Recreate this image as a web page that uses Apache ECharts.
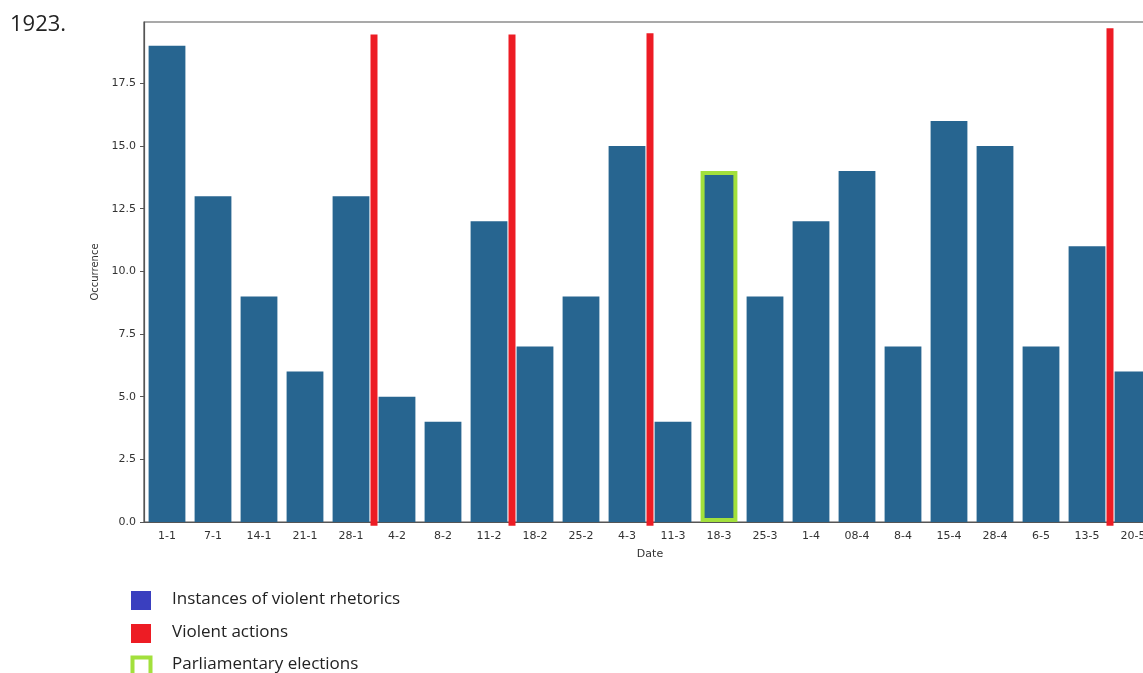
<!DOCTYPE html>
<html><head><meta charset="utf-8">
<script src="https://cdn.jsdelivr.net/npm/echarts@6/dist/echarts.min.js"></script>
<style>html,body{margin:0;padding:0;background:#fff}#c{width:1143px;height:673px}</style>
</head><body><div id="c"></div>
<script>
const dates = ['1-1','7-1','14-1','21-1','28-1','4-2','8-2','11-2','18-2','25-2','4-3','11-3','18-3','25-3','1-4','08-4','8-4','15-4','28-4','6-5','13-5','20-5'];
const rhetoric = [19,13,9,6,13,5,4,12,7,9,15,4,14,9,12,14,7,16,15,7,11,6];
const violentPos = [4.5,7.5,10.5,20.5];
const violentTop = [19.45,19.45,19.5,19.7];
const electionIndex = 12;
const yTicks = [0,2.5,5,7.5,10,12.5,15,17.5];

const chart = echarts.init(document.getElementById('c'), null, {renderer:'canvas'});
const barData = rhetoric.map((v,i)=> i===electionIndex
  ? {value:v, itemStyle:{color:'#276590', borderColor:'#a2e03c', borderWidth:4}}
  : v);
const lab = {fontFamily:'DejaVu Sans', fontSize:11, color:'#333'};
chart.setOption({
  animation:false,
  grid:{left:144, top:22, width:1012, height:500, outerBoundsMode:'none', containLabel:false,
        show:true, borderColor:'#555', borderWidth:1.2, backgroundColor:'transparent'},
  xAxis:[{
    type:'category', data:dates, name:'Date', nameLocation:'middle', nameGap:27,
    nameTextStyle:{fontFamily:'DejaVu Sans', fontSize:11, color:'#333'},
    axisLine:{onZero:false, lineStyle:{color:'#555', width:1.2}},
    axisTick:{alignWithLabel:true, length:4, lineStyle:{color:'#555'}},
    axisLabel:Object.assign({margin:9, interval:0}, lab)
  },{
    type:'value', min:-0.5, max:21.5, show:false, position:'bottom',
    axisLine:{show:false, onZero:false}, axisTick:{show:false}, splitLine:{show:false}, axisLabel:{show:false}
  }],
  yAxis:{
    type:'value', min:0, max:19.95, interval:2.5, name:'Occurrence', nameLocation:'middle', nameGap:41,
    nameTextStyle:{fontFamily:'DejaVu Sans', fontSize:10, color:'#333'},
    axisLine:{show:true, onZero:false, lineStyle:{color:'#555', width:1.2}},
    axisTick:{show:true, length:4, lineStyle:{color:'#555'}},
    splitLine:{show:false},
    axisLabel:Object.assign({margin:8, showMaxLabel:false, formatter:v=>yTicks.includes(v)?v.toFixed(1):''}, lab)
  },
  series:[{
    type:'bar', data:barData, barCategoryGap:'20%', itemStyle:{color:'#276590'}
  },{
    type:'custom', xAxisIndex:1, yAxisIndex:0, z:5, clip:false,
    data: violentPos.map((p,i)=>[p, violentTop[i]]),
    renderItem:(params, api)=>{
      const x = api.value(0), t = api.value(1);
      const top = api.coord([x, t]);
      const bot = api.coord([x, -0.15]);
      return {type:'rect', shape:{x:top[0]-3.5, y:top[1], width:7, height:bot[1]-top[1]}, style:{fill:'#ed1c24'}};
    }
  }],
  graphic:[
    {type:'text', left:10, top:14, style:{text:'1923.', font:'22px "Open Sans", sans-serif', fill:'#222'}},
    {type:'rect', shape:{x:131, y:591, width:20, height:19}, style:{fill:'#3a3fbf'}},
    {type:'rect', shape:{x:131, y:624, width:20, height:19}, style:{fill:'#ed1c24'}},
    {type:'rect', shape:{x:132.5, y:657.5, width:18, height:18}, style:{fill:'#fff', stroke:'#a2e03c', lineWidth:4}},
    {type:'text', x:172, y:599, style:{text:'Instances of violent rhetorics', font:'17px "Open Sans", sans-serif', fill:'#222', textVerticalAlign:'middle'}},
    {type:'text', x:172, y:632, style:{text:'Violent actions', font:'17px "Open Sans", sans-serif', fill:'#222', textVerticalAlign:'middle'}},
    {type:'text', x:172, y:664, style:{text:'Parliamentary elections', font:'17px "Open Sans", sans-serif', fill:'#222', textVerticalAlign:'middle'}}
  ]
});
</script></body></html>
